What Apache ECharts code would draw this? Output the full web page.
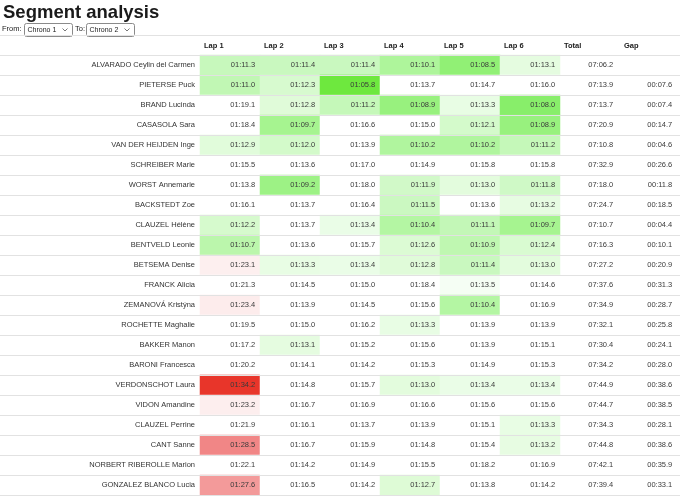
<!DOCTYPE html>
<html>
<head>
<meta charset="utf-8">
<script src="https://cdn.jsdelivr.net/npm/echarts@6/dist/echarts.min.js"></script>
<style>
    html, body { margin: 0; padding: 0; background: #fff; }
    #chart { width: 680px; height: 498px; }
</style>
</head>
<body>
<div id="chart"></div>
<script>
// riders, top to bottom
const riders = [
    "ALVARADO Ceylin del Carmen", "PIETERSE Puck", "BRAND Lucinda", "CASASOLA Sara",
    "VAN DER HEIJDEN Inge", "SCHREIBER Marie", "WORST Annemarie", "BACKSTEDT Zoe",
    "CLAUZEL Hélène", "BENTVELD Leonie", "BETSEMA Denise", "FRANCK Alicia",
    "ZEMANOVÁ Kristýna", "ROCHETTE Maghalie", "BAKKER Manon", "BARONI Francesca",
    "VERDONSCHOT Laura", "VIDON Amandine", "CLAUZEL Perrine", "CANT Sanne",
    "NORBERT RIBEROLLE Marion", "GONZALEZ BLANCO Lucia"
];

const columns = ["Lap 1", "Lap 2", "Lap 3", "Lap 4", "Lap 5", "Lap 6", "Total", "Gap"];

const lap1 = ["01:11.3","01:11.0","01:19.1","01:18.4","01:12.9","01:15.5","01:13.8","01:16.1","01:12.2","01:10.7","01:23.1",
              "01:21.3","01:23.4","01:19.5","01:17.2","01:20.2","01:34.2","01:23.2","01:21.9","01:28.5","01:22.1","01:27.6"];
const lap2 = ["01:11.4","01:12.3","01:12.8","01:09.7","01:12.0","01:13.6","01:09.2","01:13.7","01:13.7","01:13.6","01:13.3",
              "01:14.5","01:13.9","01:15.0","01:13.1","01:14.1","01:14.8","01:16.7","01:16.1","01:16.7","01:14.2","01:16.5"];
const lap3 = ["01:11.4","01:05.8","01:11.2","01:16.6","01:13.9","01:17.0","01:18.0","01:16.4","01:13.4","01:15.7","01:13.4",
              "01:15.0","01:14.5","01:16.2","01:15.2","01:14.2","01:15.7","01:16.9","01:13.7","01:15.9","01:14.9","01:14.2"];
const lap4 = ["01:10.1","01:13.7","01:08.9","01:15.0","01:10.2","01:14.9","01:11.9","01:11.5","01:10.4","01:12.6","01:12.8",
              "01:18.4","01:15.6","01:13.3","01:15.6","01:15.3","01:13.0","01:16.6","01:13.9","01:14.8","01:15.5","01:12.7"];
const lap5 = ["01:08.5","01:14.7","01:13.3","01:12.1","01:10.2","01:15.8","01:13.0","01:13.6","01:11.1","01:10.9","01:11.4",
              "01:13.5","01:10.4","01:13.9","01:13.9","01:14.9","01:13.4","01:15.6","01:15.1","01:15.4","01:18.2","01:13.8"];
const lap6 = ["01:13.1","01:16.0","01:08.0","01:08.9","01:11.2","01:15.8","01:11.8","01:13.2","01:09.7","01:12.4","01:13.0",
              "01:14.6","01:16.9","01:13.9","01:15.1","01:15.3","01:13.4","01:15.6","01:13.3","01:13.2","01:16.9","01:14.2"];
const total = ["07:06.2","07:13.9","07:13.7","07:20.9","07:10.8","07:32.9","07:18.0","07:24.7","07:10.7","07:16.3","07:27.2",
               "07:37.6","07:34.9","07:32.1","07:30.4","07:34.2","07:44.9","07:44.7","07:34.3","07:44.8","07:42.1","07:39.4"];
const gap = ["","00:07.6","00:07.4","00:14.7","00:04.6","00:26.6","00:11.8","00:18.5","00:04.4","00:10.1","00:20.9",
             "00:31.3","00:28.7","00:25.8","00:24.1","00:28.0","00:38.6","00:38.5","00:28.1","00:38.6","00:35.9","00:33.1"];

const laps = [lap1, lap2, lap3, lap4, lap5, lap6];

// "mm:ss.s" -> seconds
function toSec(s) {
    const p = s.split(":");
    return Number(p[0]) * 60 + Number(p[1]);
}

const lapCells = [];
laps.forEach((lap, x) => {
    lap.forEach((t, y) => {
        lapCells.push([x, y, toSec(t), t]);
    });
});
const totalCells = total.map((t, y) => [6, y, 0, t]);
const gapCells = gap.map((t, y) => [7, y, 0, t]);

// colour ramp: fast = green, slow = red, white band in between
const rampMin = 64, rampMax = 92.5, rampStep = 0.05;
const rampStops = [
    [64.0, "#5ade2c"], [65.8, "#6ee83e"], [68.0, "#88ee6a"], [69.7, "#a6f490"],
    [71.4, "#c9f8bf"], [72.6, "#dcfbd4"], [73.45, "#ebfde8"], [73.55, "#ffffff"],
    [82.8, "#ffffff"], [83.0, "#fdf0f0"], [84.9, "#fbdcdc"], [86.8, "#f5abab"],
    [88.7, "#f08282"], [90.6, "#ec5a50"], [92.5, "#e8352a"]
];
function hexToRgb(h) {
    return [1, 3, 5].map(i => parseInt(h.substr(i, 2), 16));
}
function rampColors() {
    const out = [];
    const n = Math.round((rampMax - rampMin) / rampStep);
    for (let k = 0; k <= n; k++) {
        const v = rampMin + k * rampStep;
        let j = 0;
        while (j < rampStops.length - 2 && v > rampStops[j + 1][0]) j++;
        const a = rampStops[j], b = rampStops[j + 1];
        const f = Math.max(0, Math.min(1, (v - a[0]) / (b[0] - a[0])));
        const ca = hexToRgb(a[1]), cb = hexToRgb(b[1]);
        const c = ca.map((x, i) => Math.round(x + (cb[i] - x) * f));
        out.push("rgb(" + c.join(",") + ")");
    }
    return out;
}

const FONT = "Liberation Sans, Arial, sans-serif";
const LINE = "#e2e2e2";

const chart = echarts.init(document.getElementById("chart"), null, {renderer: "canvas"});

function selectBox(x, label) {
    return {
        type: "group",
        left: x,
        top: 23,
        children: [
            {type: "rect", shape: {x: 0, y: 0, width: 48, height: 13, r: 2},
             style: {fill: "#fff", stroke: "#8a8a8a", lineWidth: 1}},
            {type: "text", x: 3, y: 6.5,
             style: {text: label, fill: "#222", font: "7px " + FONT, verticalAlign: "middle"}},
            {type: "polyline", shape: {points: [[38, 5], [40.5, 7.5], [43, 5]]},
             style: {stroke: "#555", lineWidth: 0.8, fill: null}}
        ]
    };
}

const labelRow = {
    show: true,
    position: "insideRight",
    distance: 5,
    color: "#3a3a3a",
    fontFamily: FONT,
    fontSize: 7.5,
    formatter: p => p.value[3]
};

const option = {
    animation: false,
    title: {
        text: "Segment analysis",
        left: 3,
        top: 3,
        padding: 0,
        textStyle: {fontFamily: FONT, fontSize: 18.5, fontWeight: "bold", color: "#1a1a1a"}
    },
    graphic: [
        {type: "text", left: 2, top: 25,
         style: {text: "From:", fill: "#222", font: "7.5px " + FONT}},
        selectBox(24, "Chrono 1"),
        {type: "text", left: 75, top: 25,
         style: {text: "To:", fill: "#222", font: "7.5px " + FONT}},
        selectBox(86, "Chrono 2"),
        {type: "line", shape: {x1: 0, y1: 35.5, x2: 680, y2: 35.5},
         style: {stroke: LINE, lineWidth: 1}}
    ],
    grid: [
        {left: 0, top: 55, width: 200, height: 440},
        {left: 200, top: 55, width: 480, height: 440}
    ],
    xAxis: [
        {gridIndex: 0, type: "value", show: false},
        {
            gridIndex: 1,
            type: "category",
            position: "top",
            data: columns,
            axisLine: {show: true, lineStyle: {color: LINE}},
            axisTick: {show: false},
            splitLine: {show: false},
            axisLabel: {
                margin: 5,
                interval: 0,
                formatter: v => "{h|" + v + "}",
                rich: {
                    h: {width: 52, align: "left", fontFamily: FONT, fontSize: 7.5,
                        fontWeight: "bold", color: "#1a1a1a"}
                }
            }
        }
    ],
    yAxis: [
        {
            gridIndex: 0,
            type: "category",
            inverse: true,
            data: riders,
            z: 5,
            axisLine: {show: false},
            axisTick: {show: false},
            axisLabel: {show: false},
            splitLine: {show: true, interval: 0, lineStyle: {color: LINE}}
        },
        {
            gridIndex: 1,
            type: "category",
            inverse: true,
            data: riders,
            z: 5,
            axisLine: {show: false},
            axisTick: {show: false},
            axisLabel: {margin: 5, interval: 0, fontFamily: FONT, fontSize: 7.5, color: "#333"},
            splitLine: {show: true, interval: 0, lineStyle: {color: LINE}}
        }
    ],
    visualMap: {
        type: "continuous",
        show: false,
        seriesIndex: 0,
        dimension: 2,
        min: rampMin,
        max: rampMax,
        inRange: {color: rampColors()}
    },
    series: [
        {
            type: "heatmap",
            xAxisIndex: 1,
            yAxisIndex: 1,
            data: lapCells,
            label: labelRow,
            emphasis: {disabled: true}
        },
        {
            type: "heatmap",
            xAxisIndex: 1,
            yAxisIndex: 1,
            data: totalCells,
            itemStyle: {color: "rgba(0,0,0,0)"},
            label: Object.assign({}, labelRow, {distance: 7}),
            emphasis: {disabled: true}
        },
        {
            type: "heatmap",
            xAxisIndex: 1,
            yAxisIndex: 1,
            data: gapCells,
            itemStyle: {color: "rgba(0,0,0,0)"},
            label: Object.assign({}, labelRow, {distance: 8}),
            emphasis: {disabled: true}
        }
    ]
};

chart.setOption(option);
</script>
</body>
</html>
